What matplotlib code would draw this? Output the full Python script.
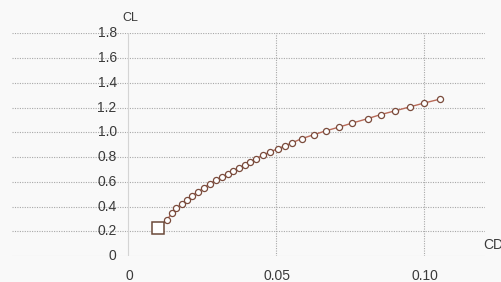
import matplotlib
matplotlib.use('Agg')
import matplotlib.pyplot as plt

# polar points
cd = [0.0101, 0.0132, 0.0149, 0.0165, 0.0182, 0.0199, 0.0216, 0.0236,
      0.0257, 0.0277, 0.0300, 0.0320, 0.0338, 0.0355, 0.0375, 0.0395,
      0.0413, 0.0433, 0.0456, 0.0482, 0.0506, 0.0530, 0.0554, 0.0587,
      0.0628, 0.0668, 0.0715, 0.0759, 0.0810, 0.0854, 0.0901, 0.0952,
      0.1002, 0.1056]
cl = [0.224, 0.290, 0.345, 0.386, 0.420, 0.453, 0.485, 0.517,
      0.550, 0.585, 0.615, 0.640, 0.663, 0.687, 0.711, 0.736,
      0.760, 0.787, 0.815, 0.842, 0.867, 0.890, 0.914, 0.948,
      0.980, 1.011, 1.043, 1.075, 1.110, 1.143, 1.172, 1.205,
      1.237, 1.269]

y_ticks = [0, 0.2, 0.4, 0.6, 0.8, 1.0, 1.2, 1.4, 1.6, 1.8]
y_labels = ['0', '0.2', '0.4', '0.6', '0.8', '1.0', '1.2', '1.4', '1.6', '1.8']
x_ticks = [0, 0.05, 0.10]
x_labels = ['0', '0.05', '0.10']

plt.rcParams['font.family'] = ['Liberation Sans', 'DejaVu Sans']
txt = '#3a3a3a'

fig = plt.figure(figsize=(5.02, 2.82), dpi=100, facecolor='#f9f9f9')
ax = fig.add_axes([0.024, 0.092, 0.942, 0.790])
ax.set_facecolor('#f9f9f9')
ax.set_xlim(-0.039, 0.1206)
ax.set_ylim(0, 1.8)
for s in ax.spines.values():
    s.set_visible(False)
ax.set_xticks([])
ax.set_yticks([])

# grid
for y in y_ticks[1:]:
    ax.axhline(y, color='#a8a8a8', lw=0.8, ls=(0, (1, 1.2)), zorder=1)
ax.axhline(0, color='#dcdcdc', lw=0.8, zorder=1)
for x in x_ticks[1:]:
    ax.axvline(x, color='#a8a8a8', lw=0.8, ls=(0, (1, 1.2)), zorder=1)
ax.axvline(0, color='#d4d4d4', lw=0.8, zorder=1)

# tick labels drawn inside the axes, next to the axis lines
for y, lab in zip(y_ticks, y_labels):
    ax.text(-0.0037, y, lab, ha='right', va='center', fontsize=10,
            color=txt, clip_on=False)
for x, lab in zip(x_ticks, x_labels):
    ax.annotate(lab, (x, 0), xytext=(1, -14), textcoords='offset points',
                ha='center', va='center', fontsize=10, color=txt,
                annotation_clip=False)
ax.annotate('CL', (0, 1.8), xytext=(2, 11), textcoords='offset points',
            ha='center', va='center', fontsize=9, color=txt,
            annotation_clip=False)
fig.text(483 / 502, 1 - 245 / 282, 'CD', ha='left', va='center',
         fontsize=10, color=txt)

ax.plot(cd, cl, color='#b86a58', lw=1.0, marker='o', markersize=4.4,
        markerfacecolor='white', markeredgecolor='#7a4b3c',
        markeredgewidth=0.9, zorder=3, clip_on=False)
ax.plot(cd[:1], cl[:1], marker='s', markersize=9, markerfacecolor='white',
        markeredgecolor='#6b4a3a', markeredgewidth=1.1, ls='none', zorder=4)

fig.savefig('out.png', dpi=100, facecolor=fig.get_facecolor())
